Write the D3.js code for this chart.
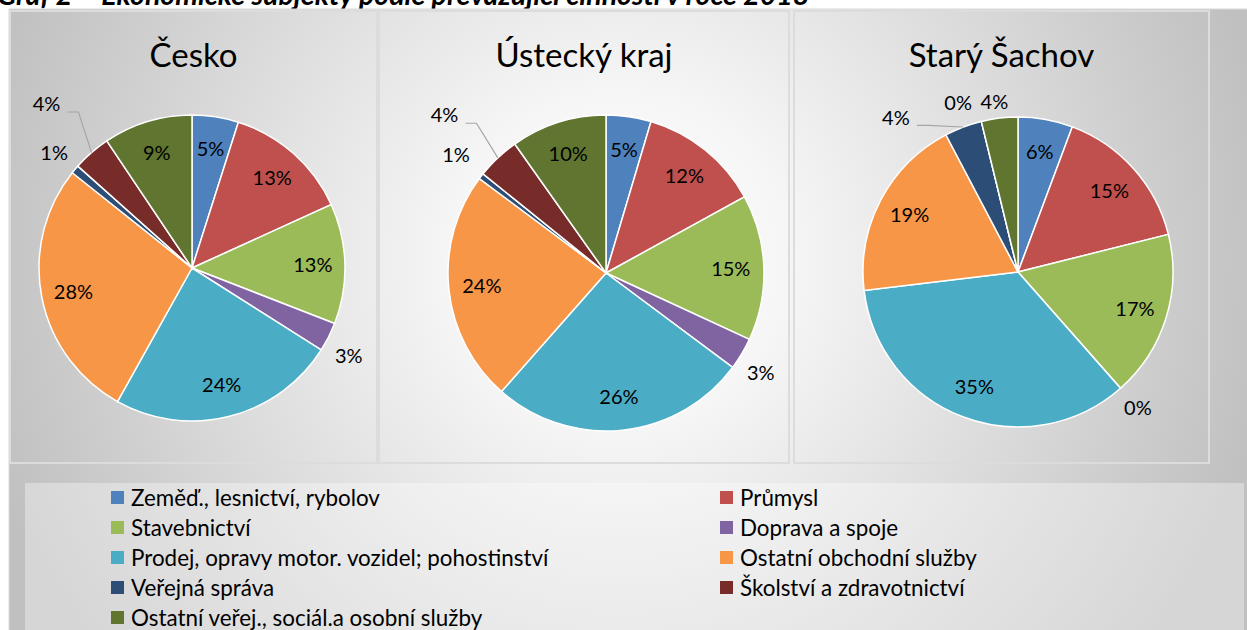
<!DOCTYPE html>
<html>
<head>
<meta charset="utf-8">
<script src="https://cdn.jsdelivr.net/npm/d3@7"></script>
<style>
  body { margin: 0; background: #fff; }
  svg { display: block; font-family: Lato, "Open Sans", sans-serif; }
</style>
</head>
<body>
<svg id="chart" width="1247" height="630"></svg>
<script>
// Ekonomické subjekty podle převažující činnosti - three pies

const categories = [
  'Zeměď., lesnictví, rybolov',
  'Průmysl',
  'Stavebnictví',
  'Doprava a spoje',
  'Prodej, opravy motor. vozidel; pohostinství',
  'Ostatní obchodní služby',
  'Veřejná správa',
  'Školství a zdravotnictví',
  'Ostatní veřej., sociál.a osobní služby'
];
const colors = ['#4F81BD', '#C0504D', '#9BBB59', '#8064A2', '#4BACC6',
                '#F79646', '#2C4D75', '#772C2A', '#5F7530'];

const regions = ['Česko', 'Ústecký kraj', 'Starý Šachov'];
const ceskoValues   = [4.9, 13.3, 12.7, 3.1, 24.1, 27.6, 0.9, 4.0, 9.4];
const usteckyValues = [4.6, 12.4, 14.9, 3.3, 26.3, 23.7, 0.6, 4.4, 9.8];
const sachovValues  = [5.7, 15.4, 17.4, 0.0, 34.6, 19.2, 3.9, 0.0, 3.8];

const pageTitle = 'Graf 2 – Ekonomické subjekty podle převažující činnosti v roce 2018';

// layout of each panel (pie centre, radius, label nudges)
const panels = [
  { x0: 10,  x1: 377,  cx: 192,  cy: 268, r: 153,
    nudge: { 3: [-3, 7], 6: [-1, 0], 7: [-28, -29] }, leader: 7 },
  { x0: 379, x1: 789,  cx: 606,  cy: 273, r: 158,
    nudge: { 3: [-4, 5], 6: [-4, -5], 7: [-35, -23] }, leader: 7 },
  { x0: 794, x1: 1209, cx: 1018, cy: 272, r: 155,
    nudge: { 3: [0, 0], 6: [-58, 15], 7: [-17, 7], 8: [-2, 10] }, leader: 6 }
];
const seriesList = [ceskoValues, usteckyValues, sachovValues];

const svg = d3.select('#chart');
const W = 1247, H = 630;

// background gradient
const defs = svg.append('defs');
const bg = defs.append('radialGradient')
  .attr('id', 'bgGrad')
  .attr('gradientUnits', 'userSpaceOnUse')
  .attr('cx', 620).attr('cy', 260).attr('r', 660);
[[0, '#ffffff'], [0.25, '#f6f6f6'], [0.5, '#e4e4e4'], [0.9, '#c7c7c7'], [1, '#c0c0c0']]
  .forEach(([o, c]) => bg.append('stop').attr('offset', o).attr('stop-color', c));

svg.append('rect').attr('width', W).attr('height', H).attr('fill', '#fff');

// document caption, cut off at the top edge like in the source
svg.append('text')
  .attr('x', -3).attr('y', 5)
  .attr('font-size', 28.5)
  .attr('font-style', 'italic')
  .attr('font-weight', 'bold')
  .attr('fill', '#000')
  .text(pageTitle);

svg.append('rect')
  .attr('x', 9).attr('y', 9)
  .attr('width', W).attr('height', H)
  .attr('fill', 'url(#bgGrad)')
  .attr('stroke', '#d9d9d9');

const pie = d3.pie().sort(null).value(d => d);

panels.forEach((p, k) => {
  const values = seriesList[k];
  const total = d3.sum(values);
  const g = svg.append('g');

  // panel frame
  g.append('rect')
    .attr('x', p.x0).attr('y', 11)
    .attr('width', p.x1 - p.x0).attr('height', 452)
    .attr('fill', 'none')
    .attr('stroke', '#dcdcdc')
    .attr('stroke-width', 2);

  g.append('text')
    .attr('x', (p.x0 + p.x1) / 2)
    .attr('y', 67)
    .attr('text-anchor', 'middle')
    .attr('font-size', 33)
    .attr('fill', '#000')
    .text(regions[k]);

  const arcs = pie(values);
  const arc = d3.arc().innerRadius(0).outerRadius(p.r);
  const pg = g.append('g').attr('transform', `translate(${p.cx},${p.cy})`);

  pg.selectAll('path.slice')
    .data(arcs)
    .join('path')
    .attr('class', 'slice')
    .attr('d', arc)
    .attr('fill', (d, i) => colors[i])
    .attr('stroke', '#fff')
    .attr('stroke-width', 1.5);

  const inArc = d3.arc().innerRadius(p.r * 0.79).outerRadius(p.r * 0.79);
  const outArc = d3.arc().innerRadius(p.r * 1.17).outerRadius(p.r * 1.17);
  const edgeArc = d3.arc().innerRadius(p.r).outerRadius(p.r);

  arcs.forEach((d, i) => {
    const pct = Math.round(d.value * 100 / total);
    const outside = d.value < 4.5;
    let [x, y] = outside ? outArc.centroid(d) : inArc.centroid(d);
    const n = p.nudge[i] || [0, 0];
    x += n[0]; y += n[1];

    pg.append('text')
      .attr('x', x).attr('y', y)
      .attr('dy', '0.36em')
      .attr('text-anchor', 'middle')
      .attr('font-size', 20)
      .attr('fill', '#000')
      .text(pct + '%');

    if (i === p.leader) {
      const [ex, ey] = edgeArc.centroid(d);
      const sx = x + 21, sy = y + 8;
      pg.append('polyline')
        .attr('points', [[sx, sy], [sx + 11, sy], [ex, ey]].map(q => q.join(',')).join(' '))
        .attr('fill', 'none')
        .attr('stroke', '#a6a6a6')
        .attr('stroke-width', 1.2);
    }
  });
});

// legend
svg.append('rect')
  .attr('x', 25).attr('y', 483)
  .attr('width', 1219).attr('height', 160)
  .attr('fill', '#fff')
  .attr('fill-opacity', 0.35);

const legend = svg.append('g').attr('class', 'legend');
const colX = [111, 720];
categories.forEach((c, i) => {
  const gx = colX[i % 2];
  const gy = 491 + Math.floor(i / 2) * 30;
  legend.append('rect')
    .attr('x', gx).attr('y', gy)
    .attr('width', 13).attr('height', 13)
    .attr('fill', colors[i]);
  legend.append('text')
    .attr('x', gx + 20).attr('y', gy + 6.5)
    .attr('dy', '0.36em')
    .attr('font-size', 22.4)
    .attr('fill', '#000')
    .text(c);
});
</script>
</body>
</html>
